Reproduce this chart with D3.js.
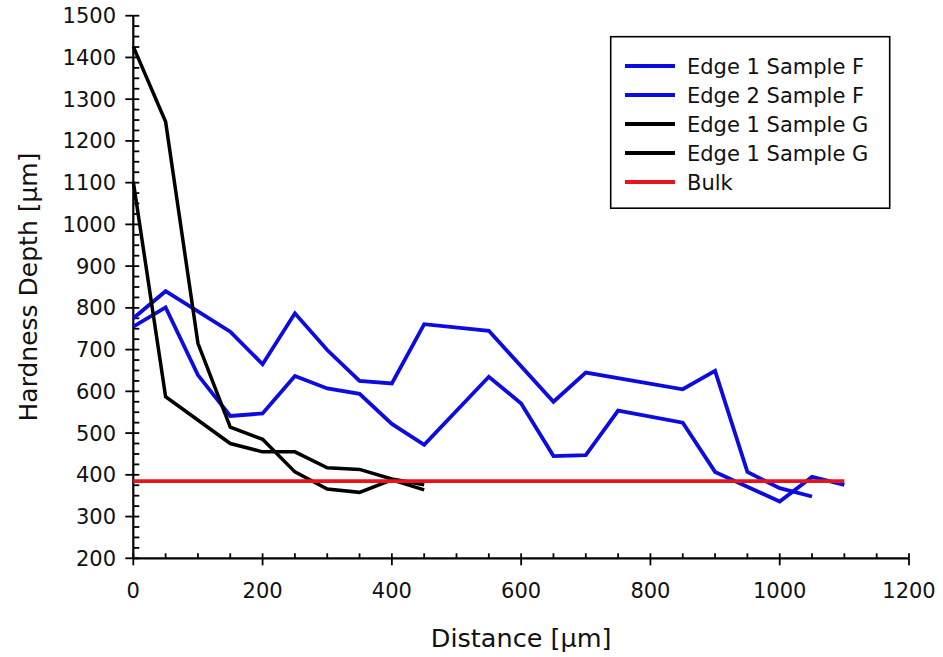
<!DOCTYPE html>
<html>
<head>
<meta charset="utf-8">
<script src="https://cdn.jsdelivr.net/npm/d3@7"></script>
<style>
  html, body { margin: 0; padding: 0; background: #fff; }
  svg { display: block; }
  text { font-family: "DejaVu Sans", Verdana, sans-serif; fill: #111; }
</style>
</head>
<body>
<svg id="chart" width="943" height="657"></svg>
<script>
// Hardness depth profiles versus distance from the edge
const xTicks = [0, 200, 400, 600, 800, 1000, 1200];
const yTicks = [200, 300, 400, 500, 600, 700, 800, 900, 1000, 1100, 1200, 1300, 1400, 1500];

const edge1F_x = [0, 50, 150, 200, 250, 300, 350, 400, 450, 550, 650, 700, 850, 900, 950, 1000, 1050];
const edge1F_y = [775, 840, 743, 665, 787, 699, 625, 619, 761, 745, 575, 645, 605, 649, 407, 368, 348];

const edge2F_x = [0, 50, 100, 150, 200, 250, 300, 350, 400, 450, 550, 600, 650, 700, 750, 850, 900, 1000, 1050, 1100];
const edge2F_y = [755, 801, 639, 541, 547, 637, 607, 594, 522, 472, 635, 571, 445, 447, 554, 525, 407, 336, 395, 376];

const edge1G_x = [0, 50, 100, 150, 200, 250, 300, 350, 400, 450];
const edge1G_y = [1426, 1246, 715, 514, 485, 407, 366, 358, 388, 364];

const edge1Gb_x = [0, 50, 150, 200, 250, 300, 350, 400, 450];
const edge1Gb_y = [1102, 587, 475, 455, 455, 417, 413, 390, 376];

const bulk_x = [0, 1100];
const bulk_y = [385, 385];

const seriesNames = ["Edge 1 Sample F", "Edge 2 Sample F", "Edge 1 Sample G", "Edge 1 Sample G", "Bulk"];
const seriesColors = ["#0c0ce0", "#0c0ce0", "#000000", "#000000", "#e8141a"];

const series = [
  { name: seriesNames[0], color: seriesColors[0], xs: edge1F_x, ys: edge1F_y, w: 3.8 },
  { name: seriesNames[1], color: seriesColors[1], xs: edge2F_x, ys: edge2F_y, w: 3.8 },
  { name: seriesNames[2], color: seriesColors[2], xs: edge1G_x, ys: edge1G_y, w: 3.5 },
  { name: seriesNames[3], color: seriesColors[3], xs: edge1Gb_x, ys: edge1Gb_y, w: 3.5 },
  { name: seriesNames[4], color: seriesColors[4], xs: bulk_x, ys: bulk_y, w: 3.8 }
];

const svg = d3.select("#chart");
const pLeft = 133.3, pRight = 909, pTop = 15.7, pBottom = 558.3;

const x = d3.scaleLinear().domain([0, 1200]).range([pLeft, pRight]);
const y = d3.scaleLinear().domain([200, 1500]).range([pBottom, pTop]);

// Minor ticks point inward, major ticks point outward
const xMinor = d3.range(0, 1201, 50);
const yMinor = d3.range(200, 1501, 25);

const axes = svg.append("g");
axes.selectAll("line.xminor").data(xMinor).join("line")
  .attr("x1", d => x(d)).attr("x2", d => x(d))
  .attr("y1", pBottom).attr("y2", pBottom - 5)
  .attr("stroke", "#000").attr("stroke-width", 1.8);
axes.selectAll("line.xmajor").data(xTicks).join("line")
  .attr("x1", d => x(d)).attr("x2", d => x(d))
  .attr("y1", pBottom).attr("y2", pBottom + 7)
  .attr("stroke", "#000").attr("stroke-width", 1.8);
axes.selectAll("line.yminor").data(yMinor).join("line")
  .attr("x1", pLeft).attr("x2", pLeft + 6)
  .attr("y1", d => y(d)).attr("y2", d => y(d))
  .attr("stroke", "#000").attr("stroke-width", 1.8);
axes.selectAll("line.ymajor").data(yTicks).join("line")
  .attr("x1", pLeft - 8).attr("x2", pLeft)
  .attr("y1", d => y(d)).attr("y2", d => y(d))
  .attr("stroke", "#000").attr("stroke-width", 1.8);

axes.append("line").attr("x1", pLeft).attr("x2", pRight).attr("y1", pBottom).attr("y2", pBottom)
  .attr("stroke", "#000").attr("stroke-width", 2.2);
axes.append("line").attr("x1", pLeft).attr("x2", pLeft).attr("y1", pTop).attr("y2", pBottom)
  .attr("stroke", "#000").attr("stroke-width", 2.2);

axes.selectAll("text.xl").data(xTicks).join("text")
  .attr("x", d => x(d)).attr("y", 598)
  .attr("text-anchor", "middle").attr("font-size", 21)
  .text(d => d);
axes.selectAll("text.yl").data(yTicks).join("text")
  .attr("x", 116).attr("y", d => y(d) + 7.5)
  .attr("text-anchor", "end").attr("font-size", 21)
  .text(d => d);

svg.append("text").attr("x", (pLeft + pRight) / 2).attr("y", 647)
  .attr("text-anchor", "middle").attr("font-size", 25.5)
  .text("Distance [µm]");
svg.append("text")
  .attr("transform", `translate(37,${(pTop + pBottom) / 2}) rotate(-90)`)
  .attr("text-anchor", "middle").attr("font-size", 25)
  .text("Hardness Depth [µm]");

// Data lines: blue first, then black, then the bulk line on top
const line = d3.line().x(d => x(d[0])).y(d => y(d[1]));
const plot = svg.append("g");
series.forEach(s => {
  const pts = s.xs.map((v, i) => [v, s.ys[i]]);
  plot.append("path").datum(pts)
    .attr("d", line)
    .attr("fill", "none")
    .attr("stroke", s.color)
    .attr("stroke-width", s.w)
    .attr("stroke-linejoin", "miter");
});

// Legend
const legend = svg.append("g");
legend.append("rect").attr("x", 610.7).attr("y", 36.7).attr("width", 279).attr("height", 171.5)
  .attr("fill", "#fff").attr("stroke", "#000").attr("stroke-width", 1.6);
series.forEach((s, i) => {
  const cy = 66 + i * 29;
  legend.append("line").attr("x1", 625).attr("x2", 675).attr("y1", cy).attr("y2", cy)
    .attr("stroke", s.color).attr("stroke-width", 4);
  legend.append("text").attr("x", 687).attr("y", cy + 7.5).attr("font-size", 21).text(s.name);
});
</script>
</body>
</html>
